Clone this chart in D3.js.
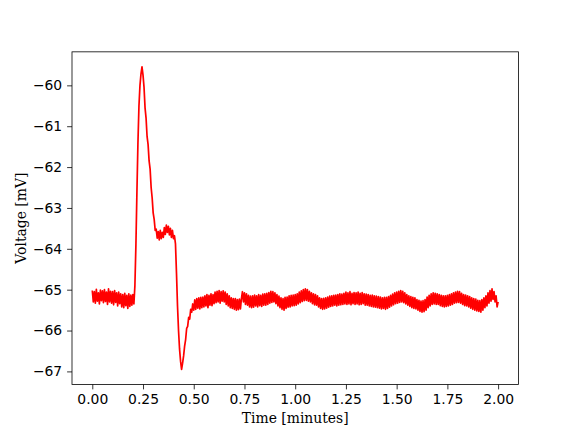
<!DOCTYPE html>
<html><head><meta charset="utf-8">
<script src="https://cdn.jsdelivr.net/npm/d3@7"></script>
<style>
html,body{margin:0;padding:0;background:#fff;}
svg{display:block;}
.tick text{font-family:"DejaVu Sans",sans-serif;font-size:13.9px;fill:#000;}
.lbl{font-family:"DejaVu Serif",serif;font-size:13.9px;fill:#000;}
</style></head>
<body>
<svg id="c" width="576" height="432"></svg>
<script>
// Time step between samples, minutes
const timeStep = 0.005;
// Voltage samples [mV], one row per 0.05 min
const voltage = [
-65.02,-65.30,-65.05,-65.33,-64.99,-65.28,-65.08,-65.35,-65.01,-65.27,
-65.03,-65.32,-65.00,-65.29,-65.06,-65.36,-64.98,-65.30,-65.04,-65.33,
-65.05,-65.37,-65.02,-65.31,-65.08,-65.40,-65.06,-65.34,-65.10,-65.42,
-65.12,-65.44,-65.09,-65.39,-65.14,-65.46,-65.10,-65.41,-65.13,-65.38,
-65.12,-65.35,-64.90,-63.90,-62.60,-61.40,-60.50,-60.00,-59.72,-59.55,
-59.75,-60.05,-60.55,-60.80,-61.25,-61.45,-61.85,-62.05,-62.50,-62.75,
-63.12,-63.28,-63.55,-63.52,-63.74,-63.58,-63.78,-63.55,-63.75,-63.60,
-63.72,-63.48,-63.65,-63.42,-63.60,-63.45,-63.66,-63.50,-63.72,-63.55,
-63.75,-63.68,-63.88,-64.60,-65.40,-66.00,-66.45,-66.75,-66.95,-66.80,
-66.62,-66.38,-66.22,-65.95,-65.90,-65.68,-65.72,-65.48,-65.55,-65.35,
-65.50,-65.25,-65.48,-65.22,-65.45,-65.20,-65.47,-65.19,-65.44,-65.18,
-65.42,-65.15,-65.40,-65.12,-65.44,-65.14,-65.38,-65.10,-65.39,-65.12,
-65.34,-65.06,-65.32,-65.04,-65.30,-65.02,-65.33,-65.05,-65.28,-65.03,
-65.30,-65.06,-65.36,-65.10,-65.40,-65.15,-65.44,-65.20,-65.46,-65.22,
-65.48,-65.22,-65.50,-65.24,-65.49,-65.23,-65.47,-65.22,-65.05,-65.30,
-65.08,-65.36,-65.10,-65.38,-65.14,-65.42,-65.16,-65.44,-65.15,-65.43,
-65.13,-65.40,-65.15,-65.42,-65.12,-65.39,-65.14,-65.41,-65.11,-65.38,
-65.10,-65.38,-65.09,-65.36,-65.07,-65.33,-65.04,-65.31,-65.05,-65.30,
-65.08,-65.34,-65.12,-65.40,-65.16,-65.44,-65.20,-65.48,-65.22,-65.50,
-65.19,-65.46,-65.18,-65.43,-65.15,-65.42,-65.14,-65.40,-65.13,-65.39,
-65.12,-65.38,-65.10,-65.35,-65.06,-65.32,-65.03,-65.29,-65.00,-65.27,
-64.98,-65.26,-65.00,-65.28,-65.04,-65.30,-65.08,-65.34,-65.10,-65.37,
-65.12,-65.38,-65.15,-65.42,-65.20,-65.46,-65.22,-65.48,-65.21,-65.47,
-65.20,-65.45,-65.18,-65.43,-65.16,-65.41,-65.15,-65.40,-65.14,-65.38,
-65.13,-65.40,-65.12,-65.38,-65.10,-65.37,-65.11,-65.36,-65.09,-65.35,
-65.06,-65.36,-65.08,-65.35,-65.05,-65.37,-65.09,-65.34,-65.07,-65.36,
-65.08,-65.35,-65.06,-65.37,-65.09,-65.36,-65.07,-65.34,-65.10,-65.38,
-65.11,-65.38,-65.12,-65.40,-65.14,-65.41,-65.13,-65.42,-65.15,-65.43,
-65.16,-65.44,-65.17,-65.45,-65.18,-65.47,-65.20,-65.46,-65.19,-65.48,
-65.19,-65.46,-65.17,-65.43,-65.14,-65.40,-65.11,-65.37,-65.08,-65.34,
-65.06,-65.33,-65.04,-65.31,-65.02,-65.30,-65.04,-65.32,-65.08,-65.35,
-65.12,-65.38,-65.15,-65.41,-65.17,-65.44,-65.19,-65.46,-65.20,-65.47,
-65.24,-65.50,-65.26,-65.53,-65.28,-65.55,-65.27,-65.54,-65.24,-65.50,
-65.18,-65.44,-65.14,-65.40,-65.10,-65.36,-65.08,-65.35,-65.09,-65.36,
-65.10,-65.36,-65.12,-65.39,-65.14,-65.41,-65.15,-65.42,-65.15,-65.41,
-65.14,-65.40,-65.12,-65.38,-65.10,-65.36,-65.08,-65.33,-65.06,-65.32,
-65.04,-65.31,-65.05,-65.33,-65.09,-65.36,-65.12,-65.39,-65.13,-65.40,
-65.15,-65.42,-65.17,-65.45,-65.20,-65.48,-65.22,-65.50,-65.23,-65.52,
-65.26,-65.53,-65.27,-65.55,-65.24,-65.50,-65.20,-65.44,-65.15,-65.40,
-65.08,-65.33,-65.02,-65.28,-64.98,-65.24,-65.05,-65.30,-65.15,-65.42,
-65.30
];
const xTicks = [0, 0.25, 0.5, 0.75, 1.0, 1.25, 1.5, 1.75, 2.0];
const yTicks = [-67, -66, -65, -64, -63, -62, -61, -60];
const xLabel = "Time [minutes]";
const yLabel = "Voltage [mV]";

const data = voltage.map((v, i) => ({t: i * timeStep, v}));

const mLeft = 72, mRight = 518.4, mTop = 51.84, mBottom = 384.48;

const tExt = d3.extent(data, d => d.t);
const vExt = d3.extent(data, d => d.v);
const tPad = (tExt[1] - tExt[0]) * 0.05, vPad = (vExt[1] - vExt[0]) * 0.05;

const x = d3.scaleLinear().domain([tExt[0] - tPad, tExt[1] + tPad]).range([mLeft, mRight]);
const y = d3.scaleLinear().domain([vExt[0] - vPad, vExt[1] + vPad]).range([mBottom, mTop]);

const svg = d3.select("#c");

svg.append("path")
  .datum(data)
  .attr("fill", "none")
  .attr("stroke", "#ff0000")
  .attr("stroke-width", 1.7)
  .attr("stroke-linejoin", "round")
  .attr("d", d3.line().x(d => x(d.t)).y(d => y(d.v)));

const xAxis = svg.append("g").attr("transform", `translate(0,${mBottom})`)
  .call(d3.axisBottom(x).tickValues(xTicks).tickFormat(d3.format(".2f")).tickSizeOuter(0).tickSize(4.9).tickPadding(4.9));
const yAxis = svg.append("g").attr("transform", `translate(${mLeft},0)`)
  .call(d3.axisLeft(y).tickValues(yTicks).tickFormat(d => d3.format("d")(d).replace("-", "\u2212")).tickSizeOuter(0).tickSize(4.9).tickPadding(4.9));
[xAxis, yAxis].forEach(g => {
  g.select(".domain").remove();
  g.selectAll(".tick line").attr("stroke", "#000").attr("stroke-width", 0.8);
});

svg.append("rect")
  .attr("x", mLeft).attr("y", mTop)
  .attr("width", mRight - mLeft).attr("height", mBottom - mTop)
  .attr("fill", "none").attr("stroke", "#000").attr("stroke-width", 0.8);

svg.append("text").attr("class", "lbl")
  .attr("x", (mLeft + mRight) / 2).attr("y", 423)
  .attr("text-anchor", "middle").text(xLabel);

svg.append("text").attr("class", "lbl")
  .attr("transform", `translate(26,${(mTop + mBottom) / 2}) rotate(-90)`)
  .attr("text-anchor", "middle").text(yLabel);
</script>
</body></html>
